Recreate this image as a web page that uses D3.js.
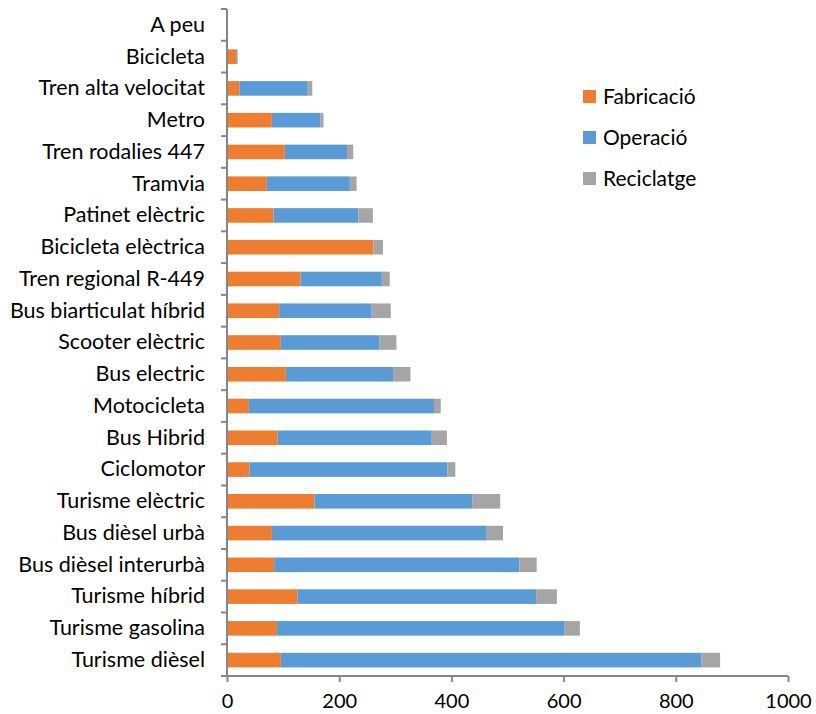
<!DOCTYPE html>
<html>
<head>
<meta charset="utf-8">
<script src="https://cdn.jsdelivr.net/npm/d3@7"></script>
<style>
  body { margin: 0; background: #fff; }
  text { font-family: Lato, "Open Sans", sans-serif; fill: #000; }
</style>
</head>
<body>
<div id="chart"></div>
<script>
// Categories top to bottom
const categories = ["A peu", "Bicicleta", "Tren alta velocitat", "Metro", "Tren rodalies 447",
  "Tramvia", "Patinet elèctric", "Bicicleta elèctrica", "Tren regional R-449",
  "Bus biarticulat híbrid", "Scooter elèctric", "Bus electric", "Motocicleta", "Bus Hibrid",
  "Ciclomotor", "Turisme elèctric", "Bus dièsel urbà", "Bus dièsel interurbà",
  "Turisme híbrid", "Turisme gasolina", "Turisme dièsel"];

const fabricacio = [0, 16, 22, 80, 103, 71, 83, 261, 131, 93, 96, 105, 39, 90, 40, 156, 80, 84, 126, 89, 96];
const operacio   = [0, 0, 122, 86, 111, 148, 151, 0, 145, 165, 176, 191, 330, 275, 353, 281, 383, 437, 425, 513, 750];
const reciclatge = [0, 3, 8, 6, 11, 12, 26, 17, 14, 34, 30, 31, 12, 27, 14, 50, 29, 31, 37, 27, 33];

const seriesNames = ["Fabricació", "Operació", "Reciclatge"];
const colors = ["#ED7D31", "#5B9BD5", "#A5A5A5"];
const xTicks = [0, 200, 400, 600, 800, 1000];

const margin = { top: 9, right: 28, bottom: 38, left: 227 },
      width = 816 - margin.left - margin.right,
      height = 714 - margin.top - margin.bottom;

const svg = d3.select("#chart")
  .append("svg")
    .attr("width", 816)
    .attr("height", 714)
  .append("g")
    .attr("transform", `translate(${margin.left},${margin.top})`);

const rows = categories.map((c, i) => ({
  cat: c, "Fabricació": fabricacio[i], "Operació": operacio[i], "Reciclatge": reciclatge[i]
}));
const stacked = d3.stack().keys(seriesNames)(rows);

const x = d3.scaleLinear().domain([0, 1000]).range([0, width]);
const y = d3.scaleBand().domain(categories).range([0, height]).paddingInner(0.54).paddingOuter(0.27);

// Bars
svg.selectAll("g.series")
  .data(stacked)
  .join("g")
    .attr("class", "series")
    .attr("fill", (d, i) => colors[i])
  .selectAll("rect")
  .data(d => d)
  .join("rect")
    .attr("x", d => x(d[0]))
    .attr("y", d => y(d.data.cat))
    .attr("width", d => x(d[1]) - x(d[0]))
    .attr("height", y.bandwidth());

// X axis
const xAxis = svg.append("g")
  .attr("transform", `translate(0,${height})`)
  .call(d3.axisBottom(x).tickValues(xTicks).tickFormat(d3.format("d")).tickSize(6).tickPadding(12));
xAxis.selectAll("text").style("font-size", "20px");

// Y axis with ticks between categories
const yAxis = svg.append("g")
  .call(d3.axisLeft(y).tickSize(0).tickPadding(22));
yAxis.selectAll("text").style("font-size", "21.5px");
yAxis.selectAll("line.sep")
  .data(d3.range(categories.length + 1))
  .join("line")
    .attr("class", "sep")
    .attr("x1", -6).attr("x2", 0)
    .attr("y1", i => i * height / categories.length)
    .attr("y2", i => i * height / categories.length);

svg.selectAll(".domain, .tick line, line.sep")
  .attr("stroke", "#868686")
  .attr("stroke-width", 2);
svg.selectAll(".domain").attr("d", function () {
  return d3.select(this.parentNode).attr("transform") ? `M0,0H${width}` : `M0,0V${height}`;
});

// Legend
const legend = svg.append("g").attr("transform", `translate(${583 - margin.left},${90 - margin.top})`);
seriesNames.forEach((s, i) => {
  const g = legend.append("g").attr("transform", `translate(0,${i * 41})`);
  g.append("rect").attr("width", 13).attr("height", 13).attr("fill", colors[i]);
  g.append("text").attr("x", 20).attr("y", 7).attr("dy", "0.35em")
    .style("font-size", "21px").text(s);
});
</script>
</body>
</html>
